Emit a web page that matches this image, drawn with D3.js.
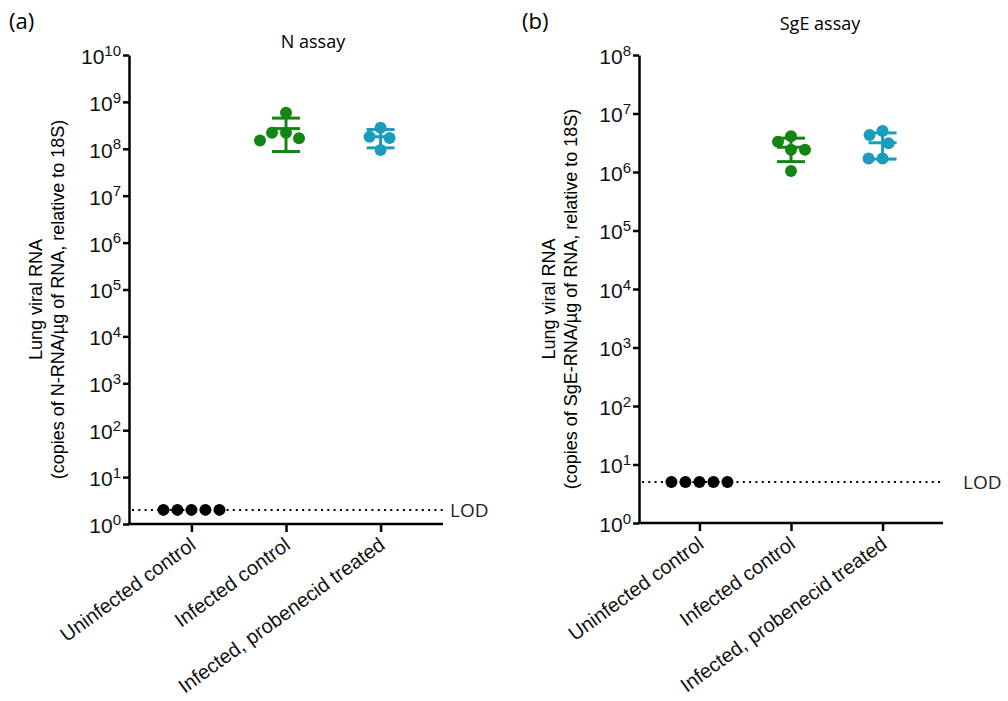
<!DOCTYPE html>
<html>
<head>
<meta charset="utf-8">
<script src="https://cdn.jsdelivr.net/npm/d3@7"></script>
<style>
  body { margin: 0; background: #fff; }
  svg { display: block; }
</style>
</head>
<body>
<div id="chart"></div>
<script>
// Group names (x categories)
const groups = ["Uninfected control", "Infected control", "Infected, probenecid treated"];

// N assay values (copies of N-RNA/ug of RNA)
const nUninfected = [2, 2, 2, 2, 2];
const nInfected = [5.9e8, 1.5e8, 2.2e8, 2.2e8, 1.67e8];
const nProbenecid = [2.8e8, 1.8e8, 1.7e8, 0.94e8];
const nLOD = 2;

// SgE assay values (copies of SgE-RNA/ug of RNA)
const sgeUninfected = [5, 5, 5, 5, 5];
const sgeInfected = [3.3e6, 4.1e6, 2.4e6, 2.4e6, 1.04e6];
const sgeProbenecid = [5.0e6, 4.3e6, 3.1e6, 1.7e6, 1.7e6];
const sgeLOD = 5;

const groupColors = ["#000000", "#138513", "#1b9bbd"];

const arial = "'Liberation Sans', Arial, Helvetica, sans-serif";
const round = "'Open Sans', sans-serif";

const width = 1008, height = 701;
const svg = d3.select("#chart").append("svg")
    .attr("width", width)
    .attr("height", height)
    .attr("font-family", arial);

// Simple beeswarm: put each point as close to the centre as it can go without overlapping
function swarm(ys, r)
{
    const placed = [];
    const order = d3.range(ys.length).sort((a, b) => ys[a] - ys[b]);
    const offsets = new Array(ys.length);
    const minDist = 2 * r + 1.5;
    order.forEach(i => {
        for (let k = 0; k < 200; k++) {
            const dx = k === 0 ? 0 : (k % 2 ? -1 : 1) * Math.ceil(k / 2);
            const ok = placed.every(p => Math.hypot(p.x - dx, p.y - ys[i]) >= minDist);
            if (ok) { offsets[i] = dx; placed.push({ x: dx, y: ys[i] }); break; }
        }
    });
    return offsets;
}

function drawPanel(cfg)
{
    const g = svg.append("g");

    const y = d3.scaleLog().domain([1, cfg.yMax]).range([cfg.bottom, cfg.top]);
    const x = d3.scalePoint().domain(groups).range([cfg.left, cfg.right]).padding(0.66);

    // panel letter and title
    g.append("text").attr("x", cfg.letterX).attr("y", 29)
        .attr("font-family", round).attr("font-size", 22)
        .text(cfg.letter);
    g.append("text").attr("x", cfg.titleX).attr("y", cfg.titleY)
        .attr("text-anchor", "middle")
        .attr("font-family", round).attr("font-size", 18)
        .text(cfg.title);

    // LOD dotted line
    g.append("line")
        .attr("x1", cfg.left + 3).attr("x2", cfg.right)
        .attr("y1", y(cfg.lod)).attr("y2", y(cfg.lod))
        .attr("stroke", "#000").attr("stroke-width", 2)
        .attr("stroke-dasharray", "2,4.3");
    g.append("text").attr("x", cfg.lodX).attr("y", y(cfg.lod))
        .attr("dy", "0.35em")
        .attr("font-family", round).attr("font-size", 19)
        .attr("fill", "#222")
        .text("LOD");

    // y axis
    const yTicks = d3.range(0, Math.log10(cfg.yMax) + 1).map(e => Math.pow(10, e));
    const yAxis = g.append("g")
        .attr("transform", `translate(${cfg.left},0)`)
        .call(d3.axisLeft(y).tickValues(yTicks).tickSize(6).tickSizeOuter(0))
        .attr("font-family", arial);
    yAxis.select(".domain").attr("stroke-width", 2.5);
    yAxis.selectAll(".tick line").attr("stroke-width", 2.5);
    yAxis.selectAll(".tick text")
        .attr("x", -8)
        .attr("dy", "0.4em")
        .attr("font-size", 21)
        .attr("fill", "#111")
        .each(function (d) {
            const t = d3.select(this);
            t.text("10");
            t.append("tspan").attr("dy", "-0.55em").attr("font-size", 15)
                .text(Math.round(Math.log10(d)));
        });

    // x axis
    const xAxis = g.append("g")
        .attr("transform", `translate(0,${cfg.bottom})`)
        .call(d3.axisBottom(x).tickSize(8).tickSizeOuter(0))
        .attr("font-family", arial);
    xAxis.select(".domain").attr("stroke-width", 2.5)
        .attr("d", `M${cfg.left - 1.25},0H${cfg.right}`);
    xAxis.selectAll(".tick line").attr("stroke-width", 2.5);
    xAxis.selectAll(".tick text")
        .attr("text-anchor", "end")
        .attr("transform", "translate(1,18) rotate(-36)")
        .attr("y", 0).attr("dy", "0.35em")
        .attr("font-size", 20)
        .attr("fill", "#111");

    // y axis title
    const midY = (cfg.top + cfg.bottom) / 2 + 10;
    g.append("text")
        .attr("transform", `translate(${cfg.titleLine1X},${midY}) rotate(-90)`)
        .attr("text-anchor", "middle").attr("font-size", 18)
        .text("Lung viral RNA");
    g.append("text")
        .attr("transform", `translate(${cfg.titleLine1X + 22},${midY}) rotate(-90)`)
        .attr("text-anchor", "middle").attr("font-size", 18)
        .text(cfg.yLabel);

    // points + mean ± SD
    const r = 6;
    cfg.series.forEach((vals, gi) => {
        const cx = x(groups[gi]);
        const color = groupColors[gi];
        const ys = vals.map(v => y(v));
        const offs = swarm(ys, r);

        g.append("g").selectAll("circle")
            .data(vals)
            .join("circle")
            .attr("cx", (d, i) => cx + offs[i])
            .attr("cy", d => y(d))
            .attr("r", r)
            .attr("fill", color);

        if (gi > 0) {
            const m = d3.mean(vals), sd = d3.deviation(vals);
            const bar = g.append("g").attr("stroke", color).attr("stroke-width", 3);
            const hw = 14;
            bar.append("line").attr("x1", cx).attr("x2", cx)
                .attr("y1", y(m + sd)).attr("y2", y(m - sd));
            [m, m + sd, m - sd].forEach(v => {
                bar.append("line").attr("x1", cx - hw).attr("x2", cx + hw)
                    .attr("y1", y(v)).attr("y2", y(v));
            });
        }
    });
}

drawPanel({
    letter: "(a)", letterX: 9,
    title: "N assay", titleX: 313, titleY: 48,
    yMax: 1e10, top: 55, bottom: 524, left: 129, right: 443,
    lod: nLOD, lodX: 450,
    titleLine1X: 42,
    yLabel: "(copies of N-RNA/\u00b5g of RNA, relative to 18S)",
    series: [nUninfected, nInfected, nProbenecid]
});

drawPanel({
    letter: "(b)", letterX: 522,
    title: "SgE assay", titleX: 820, titleY: 30,
    yMax: 1e8, top: 55, bottom: 523, left: 639, right: 943,
    lod: sgeLOD, lodX: 963,
    titleLine1X: 555,
    yLabel: "(copies of SgE-RNA/\u00b5g of RNA, relative to 18S)",
    series: [sgeUninfected, sgeInfected, sgeProbenecid]
});
</script>
</body>
</html>
